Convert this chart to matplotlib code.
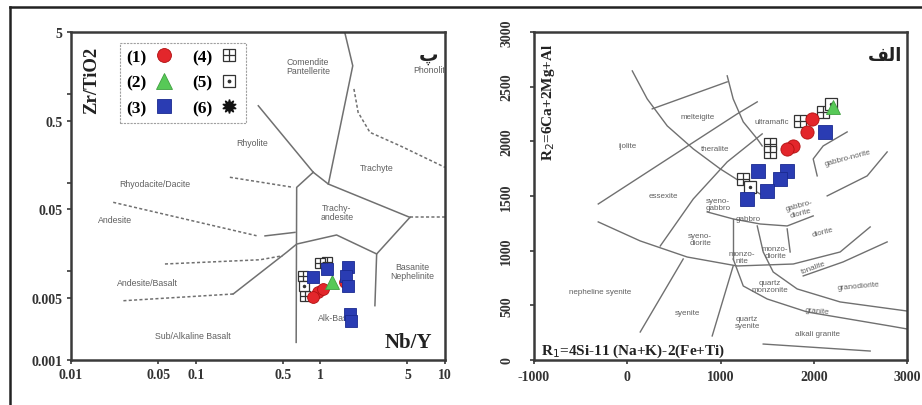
import matplotlib
matplotlib.use("Agg")
import matplotlib.pyplot as plt
from matplotlib.lines import Line2D
from matplotlib.ticker import FixedLocator, FixedFormatter, NullLocator

plt.rcParams['font.family'] = ['Liberation Serif', 'DejaVu Sans']

# ---------------- data: left panel (Winchester & Floyd) ----------------
nby_1 = [0.957, 1.05, 0.87, 1.57]
zrti_1 = [0.00584, 0.00632, 0.00513, 0.00757]
nby_2 = [1.24]
zrti_2 = [0.00757]
nby_3 = [1.66, 1.62, 1.66, 1.13, 0.87, 1.72, 1.75]
zrti_3 = [0.0112, 0.0088, 0.00683, 0.0106, 0.00863, 0.0033, 0.00275]
nby_4 = [1.13, 0.725, 0.753, 1.0]
zrti_4 = [0.0127, 0.00885, 0.00527, 0.0125]
nby_5 = [0.74]
zrti_5 = [0.0068]

# field boundaries (Nb/Y, Zr/TiO2); solid and dashed
wf_solid = [
    ([1.57, 1.82, 1.16], [4.95, 2.08, 0.0964]),
    ([0.318, 0.877], [0.736, 0.131]),
    ([0.877, 0.646, 0.640], [0.131, 0.0885, 0.00158]),
    ([0.877, 1.16, 5.23], [0.131, 0.0964, 0.0406]),
    ([5.23, 2.83, 1.35, 0.646, 0.537, 0.200], [0.0406, 0.0157, 0.0257, 0.0203, 0.0164, 0.00555]),
    ([2.83, 2.74], [0.0157, 0.0041]),
    ([0.36, 0.626], [0.0251, 0.0275]),
]
wf_dashed = [
    ([1.86, 2.01, 2.50, 4.35, 9.98], [1.14, 0.62, 0.369, 0.261, 0.149]),
    ([0.200, 0.0263], [0.00555, 0.00466]),
    ([5.23, 10.0], [0.0406, 0.0406]),
    ([0.0567, 0.328, 0.50], [0.0121, 0.0135, 0.0150]),
    ([0.0218, 0.308], [0.060, 0.0252]),
    ([0.188, 0.607], [0.115, 0.0885]),
]
wf_labels = [
    ("Comendite\nPantellerite", 0.795, 2.06, 'center'),
    ("Phonolite", 5.53, 1.91, 'left'),
    ("Rhyolite", 0.283, 0.287, 'center'),
    ("Trachyte", 2.84, 0.15, 'center'),
    ("Rhyodacite/Dacite", 0.0472, 0.099, 'center'),
    ("Andesite", 0.0225, 0.0389, 'center'),
    ("Trachy-\nandesite", 1.36, 0.0466, 'center'),
    ("Andesite/Basalt", 0.0414, 0.00757, 'center'),
    ("Basanite\nNephelinite", 5.43, 0.0101, 'center'),
    ("Sub/Alkaline Basalt", 0.0951, 0.00191, 'center'),
    ("Alk-Bas", 0.957, 0.00305, 'left'),
]
wf_xticks = [0.01, 0.05, 0.1, 0.5, 1, 5, 10]
wf_xticklabels = ["0.01", "0.05", "0.1", "0.5", "1", "5", "10"]
wf_yticks = [0.001, 0.005, 0.01, 0.05, 0.1, 0.5, 1, 5]
wf_yticklabels = ["0.001", "0.005", "", "0.05", "", "0.5", "", "5"]

# ---------------- data: right panel (R1-R2) ----------------
r1_1 = [1983, 1930, 1780, 1715]
r2_1 = [2205, 2086, 1958, 1931]
r1_2 = [2208]
r2_2 = [2315]
r1_3 = [2123, 1404, 1715, 1640, 1501, 1286]
r2_3 = [2086, 1729, 1729, 1656, 1546, 1473]
r1_4 = [1533, 1855, 2101, 1244, 1533]
r2_4 = [1976, 2187, 2269, 1656, 1900]
r1_5 = [1319, 2180]
r2_5 = [1583, 2340]

rr_lines = [
    ([54, 214, 429, 708, 997, 1286, 1458], [2644, 2388, 2141, 1931, 1748, 1592, 1501]),
    ([1072, 1136, 1244, 1394, 1447], [2599, 2388, 2178, 2022, 1958]),
    ([268, 1072], [2297, 2544]),
    ([-311, 600, 1179, 1394], [1427, 1931, 2251, 2361]),
    ([354, 708, 1072, 1447], [1043, 1473, 1812, 2068]),
    ([-311, 139, 643, 1179, 1780, 2283, 2605], [1263, 1089, 942, 860, 878, 988, 1217]),
    ([1136, 1244, 1501, 1930, 2819, 3000], [924, 677, 558, 439, 311, 284]),
    ([1394, 1458, 1565, 1822, 2283, 3000], [1226, 988, 805, 650, 531, 448]),
    ([600, 139], [924, 256]),
    ([1136, 911], [860, 220]),
    ([1887, 2315, 2787], [769, 897, 1080]),
    ([2144, 2573, 2787], [1501, 1684, 1903]),
    ([2037, 1994, 2101, 2358], [1684, 1839, 1958, 2086]),
    ([1136, 1136], [1290, 924]),
    ([1715, 1747], [1199, 988]),
    ([858, 1136, 1426, 1715, 1994], [1354, 1290, 1244, 1226, 1318]),
    ([1458, 2605], [146, 82]),
]
rr_labels = [
    ("melteigite", 750, 2223, 0), ("ijolite", 0, 1958, 0), ("theralite", 943, 1931, 0),
    ("ultramafic", 1554, 2178, 0), ("gabbro-norite", 2369, 1857, 15),
    ("essexite", 386, 1501, 0), ("syeno-\ngabbro", 975, 1427, 0), ("gabbro", 1297, 1290, 0),
    ("gabbro-\ndiorite", 1855, 1382, 15), ("syeno-\ndiorite", 783, 1107, 0),
    ("diorite", 2101, 1171, 15), ("monzo-\nnite", 1233, 942, 0), ("monzo-\ndiorite", 1587, 988, 0),
    ("tonalite", 1994, 851, 20), ("nepheline syenite", -289, 631, 0),
    ("quartz\nmonzonite", 1533, 677, 0), ("granodiorite", 2476, 677, 5),
    ("syenite", 643, 439, 0), ("quartz\nsyenite", 1286, 348, 0),
    ("granite", 2037, 448, -5), ("alkali granite", 2037, 238, 0),
]
rr_xticks = [-1000, 0, 1000, 2000, 3000]
rr_yticks = [0, 500, 1000, 1500, 2000, 2500, 3000]

group_labels = ["(1)", "(2)", "(3)", "(4)", "(5)", "(6)"]

# ---------------- styles ----------------
RED = '#e3262b'
GREEN = '#57c957'
BLUE = '#2a3cb3'
LINEC = '#707070'
SPINE = '#3a3a3a'
TXT = '#606060'

W, H = 922, 406
fig = plt.figure(figsize=(W / 100, H / 100), dpi=100)
axL = fig.add_axes([71 / W, 45 / H, 374 / W, 328 / H])
axR = fig.add_axes([534 / W, 45 / H, 373 / W, 328 / H])

for ax in (axL, axR):
    for s in ax.spines.values():
        s.set_color(SPINE)
        s.set_linewidth(1.8)
    ax.tick_params(direction='out', length=3, width=1.2, color=SPINE)

# ---- left panel ----
axL.set_xscale('log')
axL.set_yscale('log')
axL.set_xlim(0.01, 10)
axL.set_ylim(0.001, 5)
for xs, ys in wf_solid:
    axL.plot(xs, ys, color=LINEC, lw=1.1, zorder=2)
for xs, ys in wf_dashed:
    axL.plot(xs, ys, color=LINEC, lw=1.1, ls=(0, (2, 1.5)), zorder=2)
for t, x, y, ha in wf_labels:
    axL.text(x, y, t, fontsize=6.3, color=TXT, ha=ha, va='center',
             family=['Liberation Sans'], linespacing=1.1, clip_on=True, zorder=3)

def groups(ax, d, msz):
    h1, = ax.plot(d[0][0], d[0][1], 'o', ms=msz, mfc=RED, mec='#b01010', mew=0.6, ls='none', zorder=6)
    h2, = ax.plot(d[1][0], d[1][1], '^', ms=msz + 1, mfc=GREEN, mec='#40a040', mew=0.6, ls='none', zorder=6)
    h3, = ax.plot(d[2][0], d[2][1], 's', ms=msz, mfc=BLUE, mec='#1a2a90', mew=0.6, ls='none', zorder=6)
    h4a, = ax.plot(d[3][0], d[3][1], 's', ms=msz - 1, mfc='white', mec='#333333', mew=0.9, ls='none', zorder=5)
    h4b, = ax.plot(d[3][0], d[3][1], '+', ms=msz - 1, mec='#333333', mew=0.9, ls='none', zorder=5)
    h5a, = ax.plot(d[4][0], d[4][1], 's', ms=msz - 1, mfc='white', mec='#333333', mew=0.9, ls='none', zorder=5)
    h5b, = ax.plot(d[4][0], d[4][1], '.', ms=3, mec='#333333', mfc='#333333', ls='none', zorder=5)
    return h1, h2, h3, (h4a, h4b), (h5a, h5b)

groups(axL, [(nby_1, zrti_1), (nby_2, zrti_2), (nby_3, zrti_3), (nby_4, zrti_4), (nby_5, zrti_5)], 8.5)

axL.xaxis.set_major_locator(FixedLocator(wf_xticks))
axL.xaxis.set_major_formatter(FixedFormatter(wf_xticklabels))
axL.yaxis.set_major_locator(FixedLocator(wf_yticks))
axL.yaxis.set_major_formatter(FixedFormatter(wf_yticklabels))
axL.xaxis.set_minor_locator(NullLocator())
axL.yaxis.set_minor_locator(NullLocator())
axL.tick_params(axis='x', pad=3)
axL.tick_params(axis='y', pad=3)
for lab in axL.get_xticklabels() + axL.get_yticklabels():
    lab.set_fontweight('bold')
    lab.set_fontsize(10)
    lab.set_color('#333333')

axL.text(0.965, 0.055, "Nb/Y", transform=axL.transAxes, fontsize=15, fontweight='bold',
         ha='right', va='center', color='#222222')
axL.text(0.055, 0.855, r"Zr/TiO2", transform=axL.transAxes, fontsize=13.5, fontweight='bold',
         rotation=90, ha='center', va='center', color='#222222')
axL.text(0.955, 0.93, "\u067e", transform=axL.transAxes, fontsize=14, fontweight='bold',
         family=['DejaVu Sans'], ha='center', va='center', color='#222222')

# legend (handles built from the same style as the plotted groups)
def lh(**kw):
    return Line2D([], [], ls='none', **kw)
leg_handles = [
    lh(marker='o', ms=10, mfc=RED, mec='#b01010', mew=0.6),
    lh(marker='^', ms=11, mfc=GREEN, mec='#40a040', mew=0.6),
    lh(marker='s', ms=10, mfc=BLUE, mec='#1a2a90', mew=0.6),
    (lh(marker='s', ms=9, mfc='white', mec='#333333', mew=0.9),
     lh(marker='+', ms=9, mec='#333333', mew=0.9)),
    (lh(marker='s', ms=9, mfc='white', mec='#333333', mew=0.9),
     lh(marker='.', ms=3.5, mfc='#333333', mec='#333333')),
    lh(marker=(10, 1, 0), ms=10, color='#111111'),
]
leg = axL.legend(leg_handles, group_labels, ncol=2,
                 markerfirst=False, loc='upper left', bbox_to_anchor=(0.132, 0.967),
                 prop={'family': 'Liberation Serif', 'weight': 'bold', 'size': 12.5},
                 frameon=True, fancybox=False, edgecolor='#888888', handlelength=1.2,
                 handletextpad=0.4, columnspacing=1.0, labelspacing=0.55, borderpad=0.35,
                 borderaxespad=0)
leg.get_frame().set_linewidth(0.8)
leg.get_frame().set_linestyle((0, (2, 1)))

# ---- right panel ----
axR.set_xlim(-1000, 3000)
axR.set_ylim(0, 3000)
for xs, ys in rr_lines:
    axR.plot(xs, ys, color=LINEC, lw=1.0, zorder=2)
for t, x, y, r in rr_labels:
    axR.text(x, y, t, fontsize=5.8, color=TXT, ha='center', va='center', rotation=r,
             family=['Liberation Sans'], linespacing=1.0, clip_on=True, zorder=3)
groups(axR, [(r1_1, r2_1), (r1_2, r2_2), (r1_3, r2_3), (r1_4, r2_4), (r1_5, r2_5)], 9.5)
axR.set_xticks(rr_xticks)
axR.set_yticks(rr_yticks)
axR.set_xticklabels([str(v) for v in rr_xticks])
axR.set_yticklabels([str(v) for v in rr_yticks], rotation=90, va='center')
axR.tick_params(axis='y', pad=12)
axR.tick_params(axis='x', pad=4)
for lab in axR.get_xticklabels() + axR.get_yticklabels():
    lab.set_fontweight('bold')
    lab.set_fontsize(10)
    lab.set_color('#333333')

axR.text(0.04, 0.79, r"R$_2$=6Ca+2Mg+Al", transform=axR.transAxes, fontsize=11,
         fontweight='bold', rotation=90, ha='center', va='center', color='#222222')
axR.text(0.02, 0.03, r"R$_1$=4Si-11 (Na+K)-2(Fe+Ti)", transform=axR.transAxes, fontsize=11,
         fontweight='bold', ha='left', va='center', color='#222222')
axR.text(0.94, 0.93, "\uFED2\uFEDF\uFE8D", transform=axR.transAxes, fontsize=13,
         fontweight='bold', family=['DejaVu Sans'], ha='center', va='center', color='#222222')

# outer frame (top and left)
fig.add_artist(Line2D([10 / W, 1.0], [1 - 8 / H, 1 - 8 / H], color='#222222', lw=1.8))
fig.add_artist(Line2D([10 / W, 10 / W], [0, 1 - 8 / H], color='#222222', lw=1.8))

fig.savefig("out.png", dpi=100)
